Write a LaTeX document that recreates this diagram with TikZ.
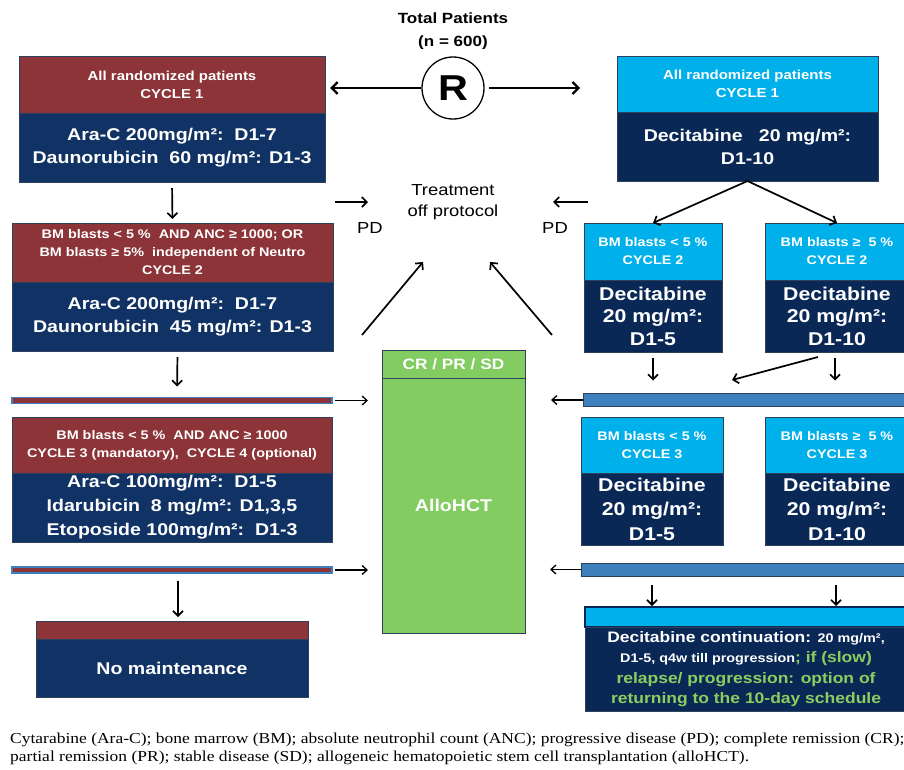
\documentclass[tikz,border=0pt]{standalone}
\usepackage{fontspec}
\setmainfont{Liberation Serif}
\newfontfamily\ls[FakeStretch=1.15]{Liberation Sans}
\newfontfamily\ft[FakeStretch=1.15]{Liberation Serif}
\usetikzlibrary{arrows.meta}
\definecolor{redc}{RGB}{140,52,56}
\definecolor{navyL}{RGB}{16,50,100}
\definecolor{navyR}{RGB}{10,40,86}
\definecolor{lblue}{RGB}{0,176,234}
\definecolor{grnc}{RGB}{130,204,98}
\definecolor{barblue}{RGB}{62,128,188}
\definecolor{bord}{RGB}{45,65,90}
\definecolor{grtext}{RGB}{140,205,95}
\newcommand\fs[2]{\fontsize{#1}{#2}\selectfont}
\begin{document}
\begin{tikzpicture}[x=1pt,y=-1pt,
 box/.style={draw=bord, line width=0.8pt, text=white, align=center, inner sep=0pt, outer sep=0pt},
 hdr/.style={box, font=\ls\bfseries\fs{12.5}{18}},
 redh/.style={hdr, fill=redc},
 lbh/.style={hdr, fill=lblue},
 bodyL/.style={box, fill=navyL, font=\ls\bfseries\fs{17}{23}},
 bodyR/.style={box, fill=navyR, font=\ls\bfseries\fs{18.5}{22.5}},
 lbar/.style={fill=redc, draw=barblue, line width=1.6pt, inner sep=0pt, outer sep=0pt, minimum height=6pt},
 rbar/.style={fill=barblue, draw=bord, line width=0.7pt, inner sep=0pt, outer sep=0pt, minimum height=13pt},
 arr/.style={-{Straight Barb[length=5pt,width=10pt]}, line width=1.7pt},
 arrthin/.style={-{Straight Barb[length=5pt,width=9pt]}, line width=1.3pt},
 arrbig/.style={-{Straight Barb[length=6pt,width=12pt]}, line width=2.3pt},
 lbl/.style={font=\ls\fs{16}{21}, align=center, inner sep=0pt}
]
\fill[white] (0,0) rectangle (904,769);
\useasboundingbox (0,0) rectangle (904,769);

% ---------- top ----------
\node[font=\ls\bfseries\fs{14.8}{23}, align=center, inner sep=0pt] (tot) at (453,31) {Total Patients\\(n = 600)};
\node[circle, draw, line width=1.3pt, minimum size=62pt, inner sep=0pt, font=\ls\bfseries\fs{36}{36}] (Rc) at (453,88) {R};

% ---------- left column ----------
\node[redh, minimum width=306pt, minimum height=57pt, font=\ls\bfseries\fs{13}{18}] (L1h) at (172,84.5) {All randomized patients\\CYCLE 1};
\node[bodyL, minimum width=306pt, minimum height=69pt] (L1b) at (172,147.5) {Ara-C 200mg/m²:\ \ D1-7\\Daunorubicin\ \ 60 mg/m²: D1-3};

\node[redh, minimum width=321pt, minimum height=59pt] (L2h) at (172.5,252.5) {BM blasts < 5 \%\ \ AND ANC ≥ 1000; OR\\BM blasts ≥ 5\%\ \ independent of Neutro\\CYCLE 2};
\node[bodyL, minimum width=321pt, minimum height=69pt] (L2b) at (172.5,316.5) {Ara-C 200mg/m²:\ \ D1-7\\Daunorubicin\ \ 45 mg/m²: D1-3};

\node[lbar, minimum width=320pt] (Lbar1) at (172,400.5) {};

\node[redh, minimum width=320pt, minimum height=56pt] (L3h) at (172,445) {BM blasts < 5 \%\ \ AND ANC ≥ 1000\\CYCLE 3 (mandatory),\ \ CYCLE 4 (optional)};
\node[bodyL, minimum width=320pt, minimum height=69pt, font=\ls\bfseries\fs{17}{24}] (L3b) at (172,507.5) {Ara-C 100mg/m²:\ \ D1-5\\Idarubicin\ \ 8 mg/m²: D1,3,5\\Etoposide 100mg/m²:\ \ D1-3};

\node[lbar, minimum width=320pt] (Lbar2) at (172,570) {};

\node[redh, minimum width=272pt, minimum height=18pt] (L4h) at (172,630) {};
\node[bodyL, minimum width=272pt, minimum height=58pt] (L4b) at (172,668) {No maintenance};

% ---------- centre ----------
\node[lbl] (treat) at (453,202) {Treatment\\off protocol};
\node[lbl] (pdl) at (370,228) {PD};
\node[lbl] (pdr) at (555,228) {PD};
\node[box, fill=grnc, minimum width=143pt, minimum height=28pt, font=\ls\bfseries\fs{15}{17}] (Gh) at (453.5,364) {CR / PR / SD};
\node[box, fill=grnc, minimum width=143pt, minimum height=255pt, font=\ls\bfseries\fs{17}{20}] (Gb) at (453.5,505.5) {AlloHCT};

\coordinate (pdl1) at (335,202);
\coordinate (pdl2) at (368,202);
\coordinate (pdr1) at (588,202);
\coordinate (pdr2) at (553,202);
\coordinate (ul1) at (362,335);
\coordinate (ul2) at (423,262);
\coordinate (ur1) at (552,335);
\coordinate (ur2) at (490,262);

% ---------- right column ----------
\node[lbh, minimum width=261pt, minimum height=56pt, font=\ls\bfseries\fs{13}{18}] (R1h) at (747.5,84) {All randomized patients\\CYCLE 1};
\node[bodyR, minimum width=261pt, minimum height=69pt, font=\ls\bfseries\fs{17}{23}] (R1b) at (747.5,146.5) {Decitabine\ \ \ 20 mg/m²:\\D1-10};

\node[lbh, minimum width=138pt, minimum height=57pt] (R2ah) at (653,251.5) {BM blasts < 5 \%\\CYCLE 2};
\node[bodyR, minimum width=138pt, minimum height=72pt] (R2ab) at (653,316) {Decitabine\\20 mg/m²:\\D1-5};
\node[lbh, minimum width=144pt, minimum height=57pt] (R2bh) at (837,251.5) {BM blasts ≥\ \ 5 \%\\CYCLE 2};
\node[bodyR, minimum width=144pt, minimum height=72pt] (R2bb) at (837,316) {Decitabine\\20 mg/m²:\\D1-10};

\node[rbar, minimum width=323pt] (Rbar1) at (744.5,400) {};

\node[lbh, minimum width=142pt, minimum height=56pt] (R3ah) at (652,445) {BM blasts < 5 \%\\CYCLE 3};
\node[bodyR, minimum width=142pt, minimum height=72pt, font=\ls\bfseries\fs{18.5}{24.5}] (R3ab) at (652,509) {Decitabine\\20 mg/m²:\\D1-5};
\node[lbh, minimum width=144pt, minimum height=56pt] (R3bh) at (837,445) {BM blasts ≥\ \ 5 \%\\CYCLE 3};
\node[bodyR, minimum width=144pt, minimum height=72pt, font=\ls\bfseries\fs{18.5}{24.5}] (R3bb) at (837,509) {Decitabine\\20 mg/m²:\\D1-10};

\node[rbar, minimum width=325pt] (Rbar2) at (743.5,569.5) {};

\node[box, fill=lblue, draw=navyR, line width=1.2pt, minimum width=322pt, minimum height=20pt] (R4h) at (746,617) {};
\node[bodyR, minimum width=322pt, minimum height=84pt, font=\ls\bfseries\fs{15.2}{20.5}] (R4b) at (746,669)
 {Decitabine continuation: {\fs{12.5}{20.5}20 mg/m²,}\\
  {\fs{12.5}{20.5}D1-5, q4w till progression}{\color{grtext}; if (slow)}\\
  {\color{grtext}relapse/ progression: option of}\\
  {\color{grtext}returning to the 10-day schedule}};

% ---------- footer ----------
\node[anchor=north west, align=left, font=\ft\fs{15.2}{18}, inner sep=0pt] (foot) at (10,733)
 {Cytarabine (Ara-C); bone marrow (BM); absolute neutrophil count (ANC); progressive disease (PD); complete remission (CR);\\
  partial remission (PR); stable disease (SD); allogeneic hematopoietic stem cell transplantation (alloHCT).};

% ---------- connectors ----------
\draw[arrbig, shorten >=5pt] (Rc.west) -- (L1h.east |- Rc.west);
\draw[arrbig, shorten <=4pt, shorten >=37pt] (Rc.east) -- (R1h.west |- Rc.east);

\draw[arr, shorten <=6pt, shorten >=4pt] (L1b.south) -- (L2h.north);
\draw[arr, shorten <=6pt, shorten >=11pt] ([xshift=5pt]L2b.south) -- ([xshift=5pt]Lbar1.north);
\draw[arr, shorten <=8pt, shorten >=4pt] ([xshift=6pt]Lbar2.south) -- ([xshift=6pt]L4h.north);

\draw[arrthin, shorten <=3pt, shorten >=14pt] (Lbar1.east) -- (Gb.west |- Lbar1.east);
\draw[arrthin, shorten <=3pt, shorten >=14pt] (Lbar2.east) -- (Gb.west |- Lbar2.east);
\draw[arrthin, shorten >=26pt] (Rbar1.west) -- (Gb.east |- Rbar1.west);
\draw[arrthin, shorten >=25pt] (Rbar2.west) -- (Gb.east |- Rbar2.west);

\draw[arr] (pdl1) -- (pdl2);
\draw[arr] (pdr1) -- (pdr2);
\draw[arr] (ul1) -- (ul2);
\draw[arr] (ur1) -- (ur2);

\draw[arr] (R1b.south) -- (R2ah.north);
\draw[arr] (R1b.south) -- (R2bh.north);

\draw[arr, shorten <=6pt, shorten >=13pt] (R2ab.south) -- (R2ab.south |- Rbar1.north);
\draw[arr, shorten <=6pt, shorten >=13pt] ([xshift=-2pt]R2bb.south) -- ([xshift=-2pt]R2bb.south |- Rbar1.north);
\coordinate (d1) at (818,357);
\coordinate (d2) at (732,380);
\draw[arr] (d1) -- (d2);

\draw[arr, shorten <=9pt, shorten >=1pt] (Rbar2.south -| R3ab.south) -- (R4h.north -| R3ab.south);
\draw[arr, shorten <=9pt, shorten >=1pt] ([xshift=-1pt]Rbar2.south -| R3bb.south) -- ([xshift=-1pt]R4h.north -| R3bb.south);
\end{tikzpicture}
\end{document}
